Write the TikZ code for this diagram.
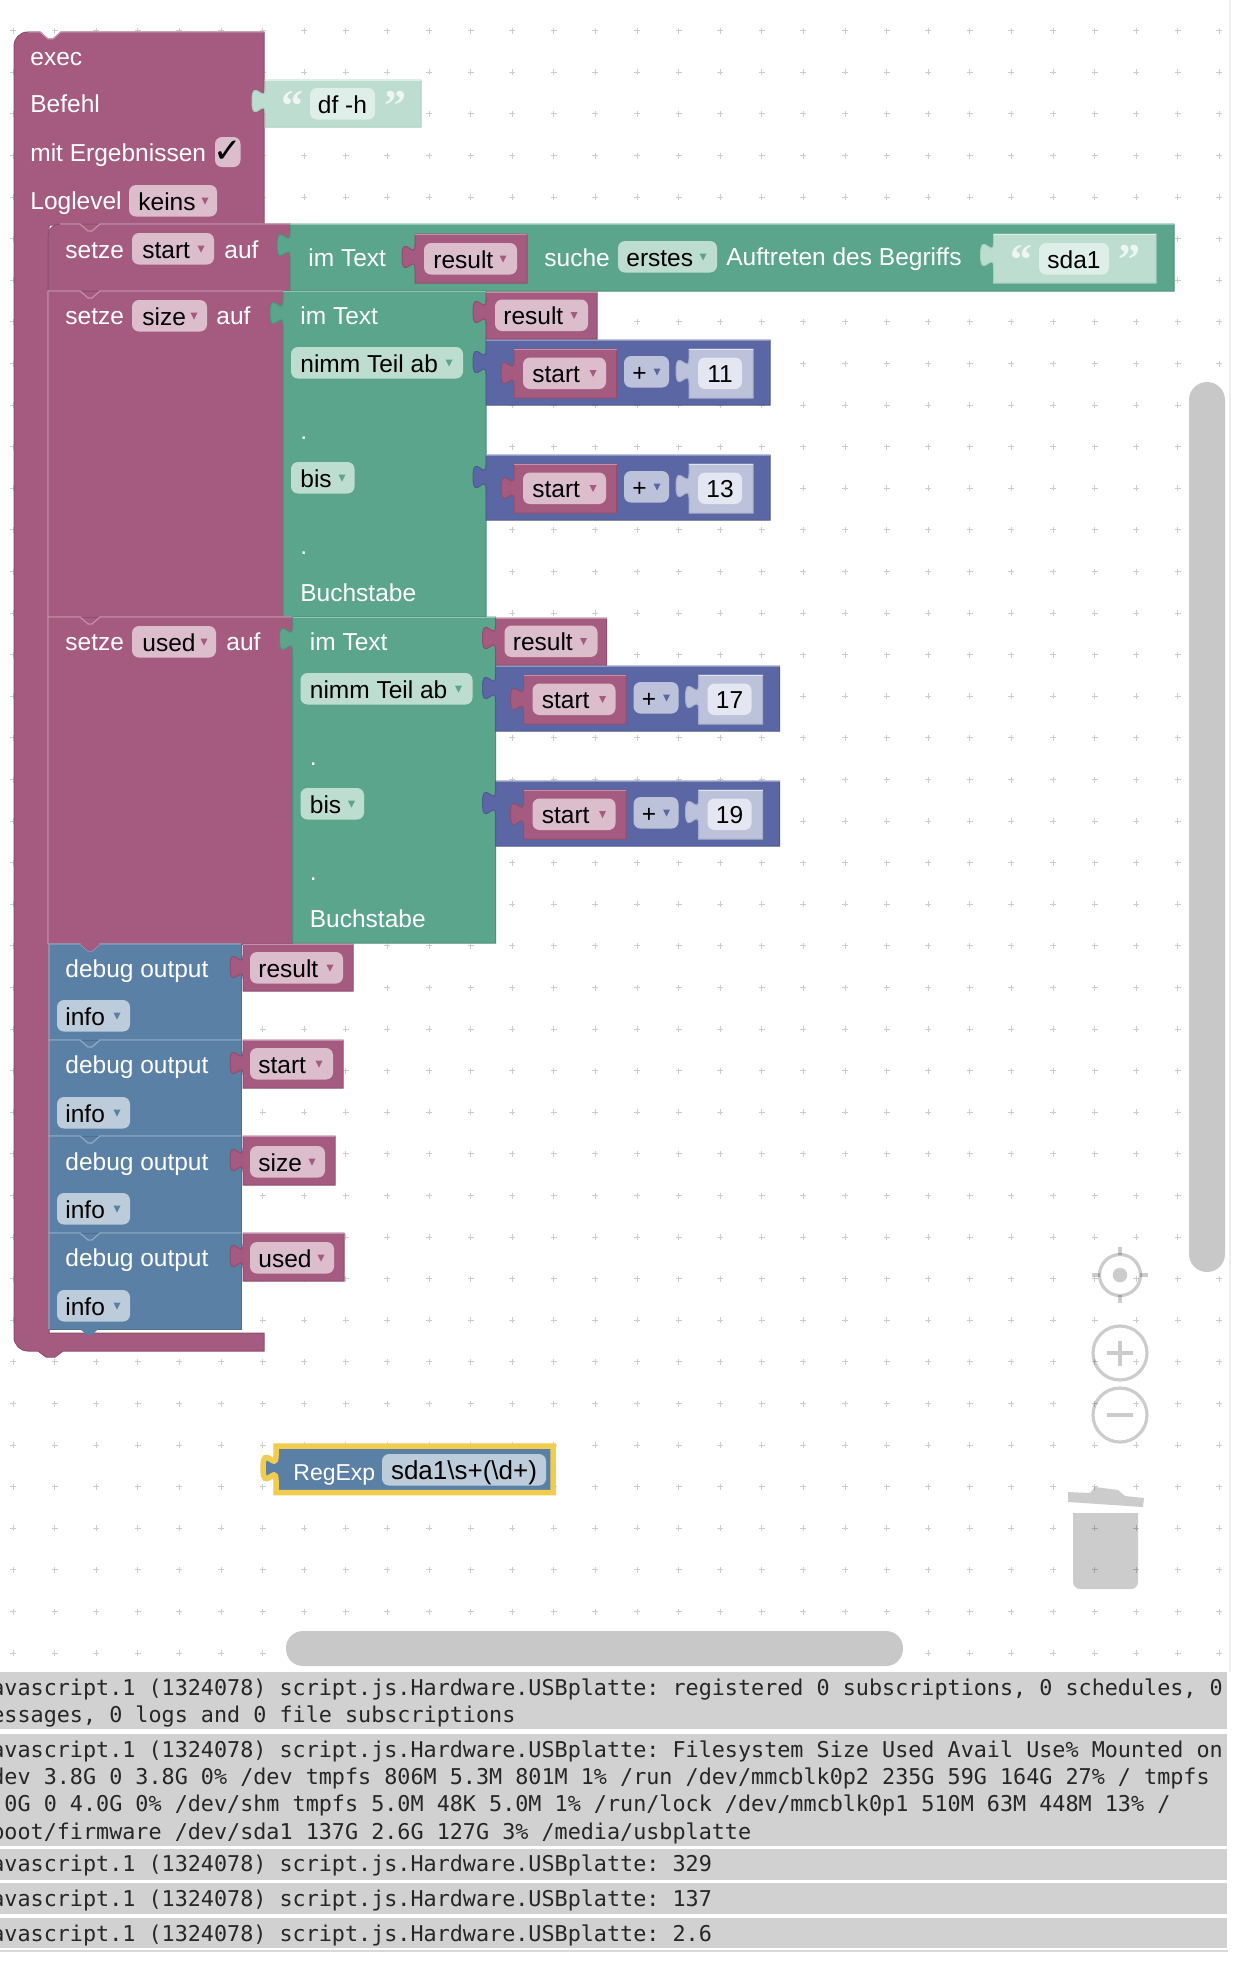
\documentclass[tikz,border=0pt]{standalone}
\usepackage{fontspec}
\setmainfont{Liberation Sans}
\newfontfamily\monof{DejaVu Sans Mono}
\newfontfamily\djvf{DejaVu Sans}
\newfontfamily\quotef{Liberation Serif}
\frenchspacing
\definecolor{pkF}{HTML}{A55B80}\definecolor{pkD}{HTML}{8F4E6F}\definecolor{pkL}{HTML}{C58FAA}\definecolor{pkB}{HTML}{DBBDCC}
\definecolor{grF}{HTML}{5BA58C}\definecolor{grD}{HTML}{4F8F79}\definecolor{grL}{HTML}{8FC5B2}\definecolor{grB}{HTML}{BDDDD1}
\definecolor{maF}{HTML}{5B67A5}\definecolor{maD}{HTML}{4F598F}\definecolor{maL}{HTML}{8F97C5}\definecolor{maB}{HTML}{BDC2DB}
\definecolor{dbF}{HTML}{5B80A5}\definecolor{dbD}{HTML}{4F6F8F}\definecolor{dbL}{HTML}{8FAAC5}\definecolor{dbB}{HTML}{BDCCDB}
\definecolor{txF}{HTML}{BDDDD1}\definecolor{txD}{HTML}{A9CFC1}\definecolor{txL}{HTML}{DDEEE8}\definecolor{txB}{HTML}{DEEEE8}
\definecolor{nuF}{HTML}{BDC2DB}\definecolor{nuD}{HTML}{A7ADCC}\definecolor{nuL}{HTML}{E2E4F0}\definecolor{nuB}{HTML}{E4E6F1}
\definecolor{hiY}{HTML}{F0CC4F}\definecolor{logG}{HTML}{D1D1D1}\definecolor{barG}{HTML}{C8C8C8}\definecolor{quoteC}{HTML}{EEF6F3}
\newcount\ndc
\tikzset{
  lab/.style={anchor=base west,inner sep=0pt,text=white,font=\fontsize{12.25}{14}\selectfont},
  dark/.style={anchor=base west,inner sep=0pt,text=black,font=\fontsize{12.25}{14}\selectfont},
  darkc/.style={anchor=base,inner sep=0pt,text=black,font=\fontsize{12.25}{14}\selectfont},
  logtext/.style={anchor=base west,inner sep=0pt,text=black!85,font=\monof\fontsize{10.88}{13}\selectfont},
  quotemark/.style={anchor=base west,inner sep=0pt,text=quoteC,font=\quotef\bfseries\fontsize{22}{24}\selectfont},
  icon/.style={draw=black,draw opacity=.2,line width=1.6pt},
  iconfill/.style={fill=black,fill opacity=.2},
}
% text label: x, centre y, text
\newcommand\lbl[3]{\global\advance\ndc 1 \node[lab] (t\the\ndc) at (#1,{#2+8.5}) {#3};}
% dropdown field: colour, x0, x1, y0, text x, text, arrow x
\newcommand\fld[7]{\global\advance\ndc 1
  \fill[#1B,rounded corners=3.5pt] (#2,#4) rectangle (#3,{#4+31.5});
  \node[dark] (t\the\ndc) at (#5,{#4+25}) {#6};
  \fill[#1F] ({#7-3.5},{#4+12.5}) -- ({#7+3.5},{#4+12.5}) -- (#7,{#4+19.5}) -- cycle;}
% plain field with centred text: colour, x0, x1, y0, centre x, text
\newcommand\pfld[6]{\global\advance\ndc 1
  \fill[#1B,rounded corners=3.5pt] (#2,#4) rectangle (#3,{#4+31.5});
  \node[darkc] (t\the\ndc) at (#5,{#4+25}) {#6};}
% value block with left tab: colour, x0, y0, x1, y1, tab top
\newcommand\vb[6]{%
  \filldraw[fill=#1F,draw=#1D,line width=.5pt] (#2,#3) -- (#4,#3) -- (#4,#5) -- (#2,#5) -- (#2,{#6+24})
    .. controls (#2,{#6+8}) and ({#2-13},{#6+37}) .. ({#2-13},{#6+12})
    .. controls ({#2-13},{#6-13}) and (#2,{#6+16}) .. (#2,#6) -- cycle;
  \draw[#1L,line width=.5pt] (#2,#3) -- (#4,#3);}
% statement block: colour, x0, y0, x1, y1
\newcommand\stmt[5]{%
  \filldraw[fill=#1F,draw=#1D,line width=.5pt] (#2,#3) rectangle (#4,#5);
  \draw[#1L,line width=.6pt] (#2,#5) -- (#2,#3) -- (80,#3) -- (88,{#3+7}) -- (92,{#3+7}) -- (100,#3) -- (#4,#3);}
% arithmetic block start + n, vertical offset, number
\newcommand\mathblk[2]{\begin{scope}[shift={(0,#1)}]
  \vb{ma}{486}{340}{770}{405}{350}
  \vb{pk}{514}{349}{616.5}{398}{361}
  \fld{pk}{523}{606}{357.5}{532}{start}{593}
  \fld{ma}{624}{669}{356}{632}{+}{657}
  \vb{nu}{689}{349}{753}{398}{359}
  \pfld{nu}{698}{742}{357.5}{720}{#2}
\end{scope}}
% substring block, placed for the "size" row
\newcommand\subblk[2]{%
  \vb{gr}{283}{291}{486}{617}{301}
  \lbl{300}{316}{im Text}
  \vb{pk}{486}{292}{597}{339}{300}
  \fld{pk}{495}{588}{299.5}{503}{result}{574}
  \fld{gr}{291}{463}{347}{300}{nimm Teil ab}{449}
  \mathblk{0}{#1}
  \lbl{300}{431}{.}
  \fld{gr}{291}{354.5}{462}{300}{bis}{342}
  \mathblk{115}{#2}
  \lbl{300}{546}{.}
  \lbl{300}{593}{Buchstabe}}
% debug block: y0, y1, text centre, field y0
\newcommand\dbg[4]{%
  \stmt{db}{49}{#1}{241}{#2}
  \lbl{65}{#3}{debug output}
  \fld{db}{57}{130}{#4}{65}{info}{117}}
% log line
\newcommand\logl[2]{\global\advance\ndc 1 \node[logtext] (t\the\ndc) at (-9,{#1+7.5}) {#2};}
\begin{document}
\begin{tikzpicture}[x=.5pt,y=-.5pt]
\useasboundingbox (0,0) rectangle (1245,1966);
\fill[white] (0,0) rectangle (1245,1966);
\begin{scope}
\clip (0,0) rectangle (1245,1966);
% workspace edge and dot grid
\draw[black!7,line width=.8pt] (1230,0) -- (1230,1672);
\foreach \i in {0,...,29} \foreach \j in {0,...,39}
  \draw[black!20,line width=.5pt] ({13+41.6*\i-3},{30.7+41.6*\j}) -- ({13+41.6*\i+3},{30.7+41.6*\j})
     ({13+41.6*\i},{30.7+41.6*\j-3}) -- ({13+41.6*\i},{30.7+41.6*\j+3});
% scrollbars
\fill[barG,rounded corners=9pt] (1189,382) rectangle (1225,1272);
\fill[barG,rounded corners=8.5pt] (286,1631) rectangle (903,1666);
% controls
\draw[icon] (1120,1275) circle[radius=20.5];
\fill[iconfill] (1120,1275) circle[radius=7.3];
\draw[icon] (1120,1247) -- (1120,1255) (1120,1295) -- (1120,1303) (1092,1275) -- (1100,1275) (1140,1275) -- (1148,1275);
\draw[icon] (1120,1353) circle[radius=27];
\draw[icon] (1107,1353) -- (1133,1353) (1120,1341) -- (1120,1366);
\draw[icon] (1120,1415) circle[radius=27];
\draw[icon] (1107,1415) -- (1133,1415);
\fill[iconfill] (1068,1492) -- (1090,1493) -- (1095,1487) -- (1118,1490) -- (1125,1496) -- (1144,1498) -- (1143,1507) -- (1068,1502) -- cycle;
\fill[iconfill] (1073,1513) -- (1138,1513) -- (1138,1582) arc[start angle=0,end angle=90,radius=7] -- (1080,1589) arc[start angle=90,end angle=180,radius=7] -- cycle;
% exec block
\filldraw[fill=pkF,draw=pkD,line width=.5pt] (14,46) arc[start angle=180,end angle=270,radius=14] -- (40,32) -- (48,39) -- (53,39) -- (61,32) -- (264,32) -- (264,225) -- (49,225) -- (49,1333) -- (264,1333) -- (264,1351) -- (63,1351) -- (55,1357) -- (46,1357) -- (38,1351) -- (28,1351) arc[start angle=90,end angle=180,radius=14] -- cycle;
\draw[pkL,line width=.6pt] (28,32) -- (40,32) -- (48,39) -- (53,39) -- (61,32) -- (264,32);
\lbl{30}{57}{exec}
\lbl{30}{104}{Befehl}
\vb{tx}{265}{80}{421}{127}{89}
\node[quotemark] (q1) at (281,120) {“};
\pfld{tx}{310}{375}{88}{342.5}{df -h}
\node[quotemark] (q2) at (384,120) {”};
\lbl{30}{153}{mit Ergebnissen}
\fill[pkB,rounded corners=3.5pt] (215,137) rectangle (240.5,167);
\node[inner sep=0pt,text=black,font=\djvf\fontsize{17}{18}\selectfont] (chk) at (228,152) {✓};
\lbl{30}{201}{Loglevel}
\fld{pk}{129}{217}{185}{138}{keins}{205}
% set start
\filldraw[fill=pkF,draw=pkD,line width=.5pt] (48,236) arc[start angle=180,end angle=270,radius=12] -- (290,224) -- (290,291) -- (48,291) -- cycle;
\draw[pkL,line width=.6pt] (60,224) -- (80,224) -- (88,231) -- (92,231) -- (100,224) -- (290,224);
\lbl{65}{250}{setze}
\fld{pk}{132}{214}{233}{142}{start}{201}
\lbl{224}{250}{auf}
\vb{gr}{290}{224}{1174}{291}{233}
\lbl{308}{258}{im Text}
\vb{pk}{415}{234}{527}{283}{245}
\fld{pk}{424}{517}{243}{433}{result}{503}
\lbl{544}{258}{suche}
\fld{gr}{618}{717}{241}{626}{erstes}{703}
\lbl{726}{257}{Auftreten des Begriffs}
\vb{tx}{993.5}{234}{1156}{283}{243}
\node[quotemark] (q3) at (1010,274) {“};
\pfld{tx}{1039}{1109}{243}{1074}{sda1}
\node[quotemark] (q4) at (1118,274) {”};
% set size
\stmt{pk}{48}{291}{283}{617}
\lbl{65}{316}{setze}
\fld{pk}{132}{207}{300}{142}{size}{194}
\lbl{216}{316}{auf}
\subblk{11}{13}
% set used
\stmt{pk}{48}{617}{292.5}{944}
\lbl{65}{642}{setze}
\fld{pk}{132}{216}{626}{142}{used}{204}
\lbl{226}{642}{auf}
\begin{scope}[shift={(9.5,326)}]
\subblk{17}{19}
\end{scope}
% debug stack
\dbg{944}{1040}{969}{1000}
\fill[pkF] (80,944) -- (88,951) -- (92,951) -- (100,944) -- cycle;
\vb{pk}{243}{944}{353}{991}{955}
\fld{pk}{250}{343}{952}{258}{result}{330}
\dbg{1040}{1136}{1065}{1097}
\vb{pk}{243}{1040}{343}{1088}{1051}
\fld{pk}{250}{333}{1048}{258}{start}{319}
\dbg{1136}{1233}{1162}{1193}
\vb{pk}{243}{1136}{335}{1185}{1148}
\fld{pk}{250}{325}{1146}{258}{size}{312}
\dbg{1233}{1329}{1258}{1290}
\vb{pk}{243}{1233}{344}{1281}{1244}
\fld{pk}{250}{334}{1242}{258}{used}{321}
\fill[dbF] (80,1329) -- (87,1335) -- (92,1335) -- (98,1329) -- cycle;
% loose RegExp block
\filldraw[fill=dbF,draw=hiY,line width=2.75pt] (276,1446) -- (553,1446) -- (553,1492.5) -- (276,1492.5) -- (276,1480)
    .. controls (276,1464) and (263,1493) .. (263,1468)
    .. controls (263,1443) and (276,1472) .. (276,1456) -- cycle;
\global\advance\ndc 1
\node[lab,font=\fontsize{11.5}{14}\selectfont] (t\the\ndc) at (293,1480.5) {RegExp};
\fill[dbB,rounded corners=3.5pt] (382,1454) rectangle (546,1485.5);
\node[darkc,font=\fontsize{13}{14}\selectfont] (rx) at (464,1479) {sda1\textbackslash s+(\textbackslash d+)};
% log panel
\fill[logG] (0,1672) rectangle (1227,1729);
\fill[logG] (0,1734) rectangle (1227,1846);
\fill[logG] (0,1849) rectangle (1227,1880);
\fill[logG] (0,1883) rectangle (1227,1914);
\fill[logG] (0,1918) rectangle (1227,1948);
\draw[black!15,line width=.6pt] (0,1951) -- (1228,1951);
\logl{1688}{avascript.1 (1324078) script.js.Hardware.USBplatte: registered 0 subscriptions, 0 schedules, 0}
\logl{1715}{essages, 0 logs and 0 file subscriptions}
\logl{1750}{avascript.1 (1324078) script.js.Hardware.USBplatte: Filesystem Size Used Avail Use\% Mounted on}
\logl{1777}{dev 3.8G 0 3.8G 0\% /dev tmpfs 806M 5.3M 801M 1\% /run /dev/mmcblk0p2 235G 59G 164G 27\% / tmpfs}
\logl{1804}{.0G 0 4.0G 0\% /dev/shm tmpfs 5.0M 48K 5.0M 1\% /run/lock /dev/mmcblk0p1 510M 63M 448M 13\% /}
\logl{1832}{boot/firmware /dev/sda1 137G 2.6G 127G 3\% /media/usbplatte}
\logl{1864}{avascript.1 (1324078) script.js.Hardware.USBplatte: 329}
\logl{1899}{avascript.1 (1324078) script.js.Hardware.USBplatte: 137}
\logl{1934}{avascript.1 (1324078) script.js.Hardware.USBplatte: 2.6}
\end{scope}
\end{tikzpicture}
\end{document}
